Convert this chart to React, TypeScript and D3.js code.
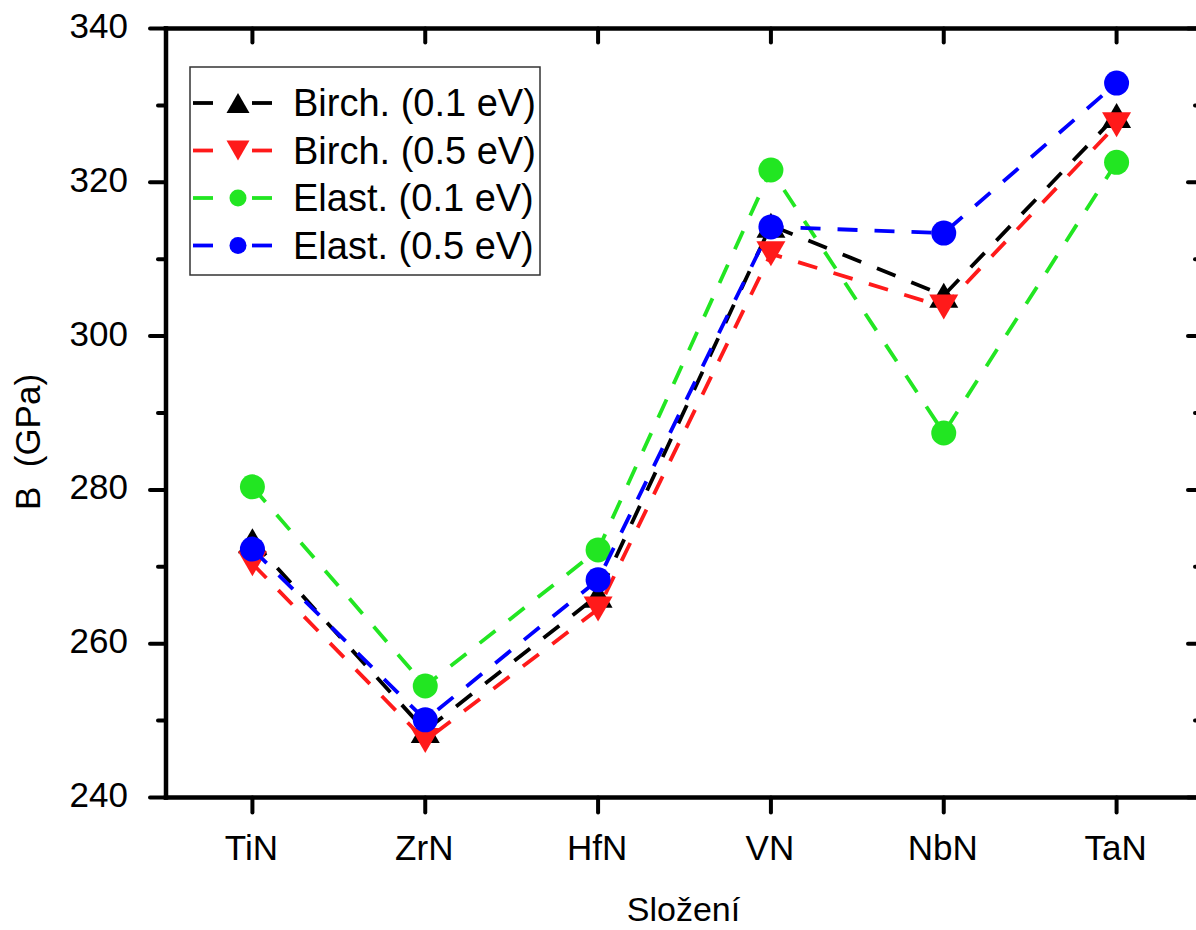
import React from "react";
import * as d3 from "d3";

const categories = ["TiN", "ZrN", "HfN", "VN", "NbN", "TaN"];
const birch01 = [273.4, 248.7, 266.3, 314.4, 305.3, 328.7];
const birch05 = [270.4, 247.4, 264.5, 310.7, 303.8, 327.5];
const elast01 = [280.4, 254.5, 272.2, 321.6, 287.4, 322.6];
const elast05 = [272.3, 250.1, 268.3, 314.2, 313.4, 332.9];
const yTicks = [240, 260, 280, 300, 320, 340];
const yMinor = [250, 270, 290, 310, 330];

const seriesNames = ["Birch. (0.1 eV)", "Birch. (0.5 eV)", "Elast. (0.1 eV)", "Elast. (0.5 eV)"];
const seriesColors = ["#000000", "#ff1a1a", "#22e622", "#0000ff"];
const seriesMarkers = ["up", "down", "circle", "circle"];
const seriesValues = [birch01, birch05, elast01, elast05];

const W = 1196;
const H = 930;
const FONT = "'Liberation Sans', Arial, Helvetica, sans-serif";

function markerPath(kind: string, cx: number, cy: number, w: number, h: number): string {
  if (kind === "up") {
    return `M${cx},${cy - h / 2}L${cx + w / 2},${cy + h / 2}L${cx - w / 2},${cy + h / 2}Z`;
  }
  return `M${cx - w / 2},${cy - h / 2}L${cx + w / 2},${cy - h / 2}L${cx},${cy + h / 2}Z`;
}

function Marker({ kind, cx, cy, color, big }: { kind: string; cx: number; cy: number; color: string; big: boolean }) {
  if (kind === "circle") {
    return <circle cx={cx} cy={cy} r={big ? 12.5 : 8.5} fill={color} />;
  }
  const w = big ? 29 : 23;
  const h = big ? 25 : 20;
  return <path d={markerPath(kind, cx, cy, w, h)} fill={color} />;
}

export default function App() {
  const left = 166;
  const right = 1203;
  const top = 28.5;
  const bottom = 797.5;

  const x = d3.scalePoint<string>().domain(categories).range([left, right]).padding(0.5);
  const y = d3.scaleLinear().domain([240, 340]).range([bottom, top]);

  const line = d3
    .line<number>()
    .x((_, i) => x(categories[i]) as number)
    .y((d) => y(d));

  const axisW = 4.5;
  const tickW = 4;

  return (
    <svg
      width={W}
      height={H}
      style={{ position: "absolute", left: 0, top: 0, background: "#fff" }}
      fontFamily={FONT}
    >
      <rect x={0} y={0} width={W} height={H} fill="#fff" />

      {/* series */}
      {seriesValues.map((vals, si) => (
        <g key={si}>
          <path
            d={line(vals) || ""}
            fill="none"
            stroke={seriesColors[si]}
            strokeWidth={3.8}
            strokeDasharray="20 17"
          />
          {vals.map((v, i) => (
            <Marker
              key={i}
              kind={seriesMarkers[si]}
              cx={x(categories[i]) as number}
              cy={y(v)}
              color={seriesColors[si]}
              big={true}
            />
          ))}
        </g>
      ))}

      {/* frame */}
      <g stroke="#000" strokeWidth={axisW} fill="none" strokeLinecap="square">
        <line x1={left} y1={top} x2={left} y2={bottom} />
        <line x1={left} y1={bottom} x2={right} y2={bottom} />
        <line x1={left} y1={top} x2={right} y2={top} />
        <line x1={right} y1={top} x2={right} y2={bottom} />
      </g>

      {/* ticks */}
      <g stroke="#000" strokeWidth={tickW} strokeLinecap="round">
        {yTicks.map((t) => (
          <g key={"ym" + t}>
            <line x1={left} x2={left - 16} y1={y(t)} y2={y(t)} />
            <line x1={right} x2={right - 15} y1={y(t)} y2={y(t)} />
          </g>
        ))}
        {yMinor.map((t) => (
          <g key={"yn" + t}>
            <line x1={left} x2={left - 8} y1={y(t)} y2={y(t)} />
            <line x1={right} x2={right - 8} y1={y(t)} y2={y(t)} />
          </g>
        ))}
        {categories.map((c) => (
          <g key={"xt" + c}>
            <line x1={x(c)} x2={x(c)} y1={bottom} y2={bottom + 15} />
            <line x1={x(c)} x2={x(c)} y1={top} y2={top + 14} />
          </g>
        ))}
      </g>

      {/* y tick labels */}
      {yTicks.map((t) => (
        <text key={"yl" + t} x={128} y={y(t) + 9.5} fontSize={35} textAnchor="end" fill="#000">
          {t}
        </text>
      ))}

      {/* x tick labels */}
      {categories.map((c) => (
        <text key={"xl" + c} x={(x(c) as number) - 1} y={860} fontSize={35} textAnchor="middle" fill="#000">
          {c}
        </text>
      ))}

      {/* axis titles */}
      <text x={(left + right) / 2 - 1} y={921} fontSize={34} textAnchor="middle" fill="#000">
        Složení
      </text>
      <text
        transform={`translate(40,442) rotate(-90)`}
        fontSize={35}
        textAnchor="middle"
        fill="#000"
        xmlSpace="preserve"
        style={{ whiteSpace: "pre" }}
      >
        {"B  (GPa)"}
      </text>

      {/* legend */}
      <rect x={190} y={67} width={350} height={208} fill="#fff" stroke="#333" strokeWidth={1.5} />
      {seriesNames.map((name, si) => {
        const cy = 103 + si * 47.5;
        return (
          <g key={"lg" + si}>
            <line x1={193} x2={213} y1={cy} y2={cy} stroke={seriesColors[si]} strokeWidth={3.8} />
            <line x1={252} x2={272} y1={cy} y2={cy} stroke={seriesColors[si]} strokeWidth={3.8} />
            <Marker kind={seriesMarkers[si]} cx={238} cy={cy} color={seriesColors[si]} big={false} />
            <text x={293} y={cy + 13} fontSize={38} fill="#000">
              {name}
            </text>
          </g>
        );
      })}
    </svg>
  );
}
